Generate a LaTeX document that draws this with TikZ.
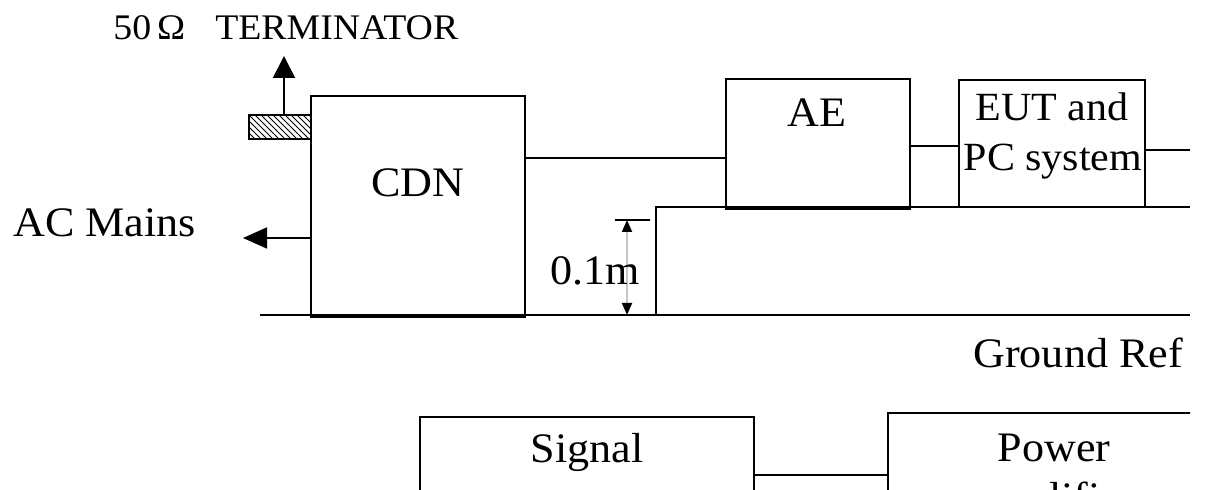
\documentclass[tikz,border=0pt]{standalone}
\usepackage{fontspec}
\setmainfont{Liberation Serif}[FakeStretch=1.05]
\usetikzlibrary{arrows.meta,patterns}
\begin{document}
\begin{tikzpicture}[x=0.5pt, y=-0.5pt,
    box/.style={draw, line width=0.9pt, inner sep=0pt},
    txt/.style={inner sep=0pt, anchor=base, font=\fontsize{21}{26}\selectfont},
    wire/.style={line width=0.9pt}]
    % Page and crop of the drawing (the right and bottom edges are cut)
    \useasboundingbox (0,0) rectangle (1209,490);
    \clip (0,0) rectangle (1190,490);

    % Coupling/decoupling network with its terminator
    \node[box, minimum width=107pt, minimum height=109.5pt] (cdn) at (418,205.5) {};
    \node[txt] (cdnlab) at (418,197) {CDN};
    \node[draw, line width=0.9pt, inner sep=0pt, pattern=north west lines,
        minimum width=31pt, minimum height=12pt] (term) at (280,127) {};
    \coordinate (termtip) at (284,56);
    \draw[wire, -{Triangle[width=11pt,length=11pt]}] ([xshift=2pt]term.north) -- (termtip);
    \node[txt, anchor=base west, font=\fontsize{18}{21}\selectfont] (termlab)
        at (113,40) {50\,Ω\hspace{15pt}TERMINATOR};

    % Mains lead out of the CDN
    \coordinate (actip) at (243,238);
    \draw[wire, -{Triangle[width=10.5pt,length=12pt]}] (cdn.west |- actip) -- (actip);
    \node[txt, anchor=base west] (aclab) at (13,237) {AC Mains};

    % Auxiliary equipment and EUT on the 0.1 m support
    \node[box, minimum width=92pt, minimum height=64pt] (ae) at (818,143) {};
    \node[txt] (aelab) at (817,127) {AE};
    \node[box, minimum width=93pt, minimum height=63.5pt] (eut) at (1052,143.5) {};
    \node[txt, font=\fontsize{20}{25}\selectfont] (eutlab) at (1052,121) {EUT and};
    \node[txt, font=\fontsize{20}{25}\selectfont] (pclab) at (1053,171) {PC system};
    \draw[line width=1.8pt] (cdn.south west) -- (cdn.south east);
    \draw[line width=1.8pt] (ae.south west) -- (ae.south east);

    % Cables
    \draw[wire] (cdn.east |- 0,158) -- (ae.west |- 0,158);
    \draw[wire] (ae.east |- 0,146) -- (eut.west |- 0,146);
    \coordinate (eutout) at (1190,150);
    \draw[wire] (eut.east |- eutout) -- (eutout);

    % Ground reference plane and the support
    \coordinate (gndw) at (260,315);
    \coordinate (gnde) at (1190,315);
    \draw[wire] (gndw) -- (gnde);
    \coordinate (tablew) at (656,207);
    \coordinate (tablee) at (1190,207);
    \draw[wire] (tablew |- gnde) -- (tablew) -- (tablee);
    \node[txt, anchor=base west] (gndlab) at (973,368) {Ground Ref};

    % Height of the support
    \coordinate (dimtop) at (627,220);
    \draw[wire] (615,220) -- (650,220);
    \draw[gray!45, line width=0.9pt,
        {Triangle[width=5pt,length=6pt,color=black]}-{Triangle[width=5pt,length=6pt,color=black]}]
        (dimtop) -- (dimtop |- gnde);
    \node[txt, anchor=base west] (dimlab) at (550,285) {0.1m};

    % Signal generator and power amplifier
    \node[box, minimum width=167pt, minimum height=91.5pt] (sig) at (587,508.5) {};
    \node[txt] (siglab) at (587,463) {Signal};
    \node[box, minimum width=166pt, minimum height=93.5pt] (pwr) at (1054,506.5) {};
    \node[txt] (pwrlab) at (1054,462) {Power};
    \node[txt] (pwrlab2) at (1054,512) {amplifier};
    \coordinate (link) at (754,475);
    \draw[wire] (sig.east |- link) -- (pwr.west |- link);
\end{tikzpicture}
\end{document}
